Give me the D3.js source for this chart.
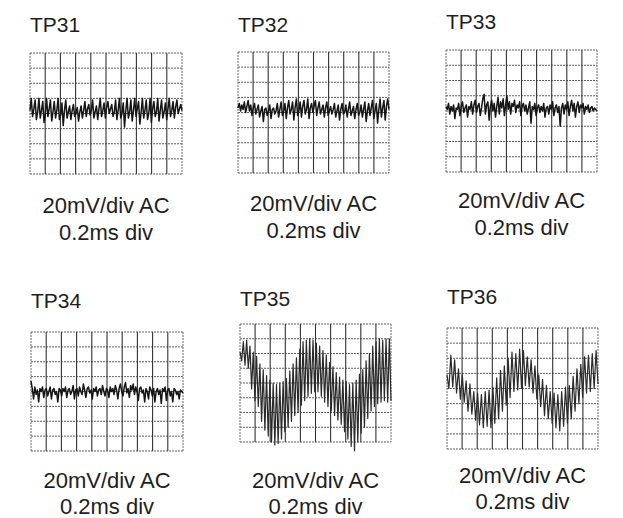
<!DOCTYPE html>
<html>
<head>
<meta charset="utf-8">
<title>TP31-TP36</title>
<script src="https://d3js.org/d3.v7.min.js"></script>
<style>
  body{margin:0;background:#fff;}
  svg{display:block;}
  text{font-family:"Liberation Sans",Arial,Helvetica,sans-serif;fill:#1e1e1e;}
</style>
</head>
<body>
<div id="chart"></div>
<script>
// probe names, one per scope photo
var probes = ['TP31', 'TP32', 'TP33', 'TP34', 'TP35', 'TP36'];
var voltLabel = '20mV/div AC';
var timeLabel = '0.2ms div';

// traces in divisions from centre line, evenly spread over 10 div
var tp31 = [0.2, 1.0, -0.2, 0.3, 0.9, -0.4, 0.1, 1.0, -0.3, 0.2, 0.8, -0.6, 0.0, 1.0, -0.2, 0.3, 0.9, -0.5, 0.1, 0.8, -0.3, 0.2, 1.0, -0.4, -0.1, 0.7, -0.8, 0.2, 0.9, -0.3,
  0.1, 0.5, -0.4, 0.2, 0.6, -0.2, 0.0, 0.4, -0.5, 0.1, 0.5, -0.3, 0.2, 0.8, -0.2, 0.3, 0.6, -0.1, 0.2, 0.9, -0.3, 0.1, 0.5, -0.4, 0.3, 1.0, -0.2, 0.2, 0.7, -0.3,
  0.4, 0.8, 0.0, 0.3, 0.6, -0.2, 0.1, 0.9, -0.4, 0.2, 1.0, -0.3, 0.0, 0.7, -0.9, 0.2, 1.0, -0.3, 0.1, 0.9, -0.5, 0.2, 1.0, -0.2, 0.3, 0.8, -0.7, 0.1, 1.0, -0.3,
  0.2, 0.9, -0.4, 0.0, 1.0, -0.6, 0.3, 0.8, -0.2, 0.1, 1.0, -0.5, 0.2, 0.9, -0.3, 0.1, 0.7, -0.4, 0.3, 1.0, -0.2, 0.2, 0.8, -0.3, 0.4, 0.9, 0.0, 0.3, 0.6, 0.2];

var tp32 = [0.3, 0.6, 0.1, 0.5, 0.2, 0.7, 0.0, 0.4, 0.8, 0.1, 0.5, -0.2, 0.3, 0.6, -0.1, 0.2, 0.5, -0.3, 0.1, 0.4, -0.6, 0.2, 0.3, -0.2, 0.1, 0.5, -0.4, 0.2, 0.3, -0.1,
  0.1, 0.6, -0.3, 0.2, 0.7, -0.2, 0.1, 0.6, -0.4, 0.3, 0.8, -0.1, 0.2, 0.7, -0.5, 0.3, 0.9, -0.2, 0.1, 0.7, -0.3, 0.4, 0.8, -0.1, 0.2, 0.9, -0.4, 0.3, 0.6, 0.0,
  0.4, 0.8, -0.2, 0.3, 0.7, -0.1, 0.2, 0.5, -0.3, 0.3, 0.7, -0.2, 0.1, 0.4, -0.1, 0.2, 0.6, -0.3, 0.1, 0.5, -0.5, 0.2, 0.6, -0.1, 0.0, 0.5, -0.3, 0.2, 0.7, -0.2,
  0.1, 0.4, -0.4, 0.2, 0.6, -0.2, 0.0, 0.5, -0.3, 0.2, 0.7, -0.6, 0.1, 0.6, -0.2, 0.3, 0.8, -0.4, 0.1, 0.6, -0.7, 0.2, 0.9, -0.3, 0.3, 0.8, -0.5, 0.4, 0.9, 0.2];

var tp33 = [0.3, 0.1, 0.5, -0.2, 0.3, 0.0, 0.4, -0.5, 0.2, 0.1, 0.5, -0.3, 0.3, 0.6, -0.1, 0.2, 0.4, -0.4, 0.3, 0.1, 0.6, -0.2, 0.4, 0.7, -0.1, 0.3, 0.5, -0.3, 0.2, 0.8,
  1.1, -0.2, 0.4, 0.6, -0.6, 0.3, 0.7, 0.0, 0.5, -0.4, 0.3, 0.9, -0.2, 0.6, 0.2, 0.8, -0.3, 0.4, 1.0, 0.1, 0.6, -0.2, 0.5, 0.3, 0.7, -0.1, 0.4, 0.2, 0.6, -0.3,
  0.3, 0.5, 0.0, 0.4, -0.2, 0.2, 0.6, -0.8, 0.3, 0.1, 0.5, -0.3, 0.2, 0.4, -0.1, 0.3, 0.0, 0.5, -0.4, 0.2, 0.3, -0.2, 0.4, 0.1, 0.6, -0.3, 0.2, 0.4, -0.1, 0.3,
  -1.0, 0.2, 0.5, -0.2, 0.4, 0.1, 0.6, -0.3, 0.3, 0.7, 0.0, 0.5, -0.4, 0.3, 0.6, -0.1, 0.4, 0.2, 0.5, -0.2, 0.3, 0.1, 0.4, -0.1, 0.2, 0.3, 0.0, 0.2, 0.1, 0.0];

var tp34 = [0.7, 0.2, -0.5, 0.3, -0.2, 0.1, -0.7, 0.2, 0.0, 0.3, -0.4, 0.1, 0.2, -0.3, 0.0, 0.3, -0.5, 0.1, 0.2, -0.2, 0.0, -0.7, 0.2, 0.1, -0.3, 0.2, 0.0, 0.3, -0.4, 0.1,
  0.2, -0.2, 0.0, 0.4, -0.5, 0.1, 0.2, -0.3, 0.3, 0.0, -0.2, 0.5, 0.1, -0.4, 0.2, 0.3, -0.1, 0.1, -0.5, 0.2, 0.0, 0.3, -0.3, 0.1, 0.2, -0.2, 0.4, 0.0, -0.3, 0.2,
  0.1, -0.4, 0.3, 0.0, 0.2, -0.2, 0.4, 0.1, -0.5, 0.2, 0.5, 0.0, -0.3, 0.3, 0.6, -0.1, 0.2, -0.4, 0.4, 0.1, 0.5, -0.2, 0.3, 0.0, -0.6, 0.2, 0.3, -0.1, 0.1, -0.7,
  0.2, 0.0, -0.5, 0.3, 0.1, -0.3, 0.2, -0.7, 0.0, 0.2, -0.2, 0.1, -0.8, 0.2, 0.0, 0.3, -0.6, 0.1, 0.2, -0.3, 0.0, -0.7, 0.2, 0.1, -0.2, 0.0, -0.5, 0.1, 0.0, -0.1];

// TP35 and TP36: top of each ripple followed by its bottom
var tp35 = [2.1, 1.5, 2.8, 1.2, 2.9, 1.0, 2.5, -0.4, 2.1, -1.2, 1.8, -1.6, 1.3, -2.6, 0.9, -3.2, 0.5, -3.6, 0.2, -4.0,
  0.0, -4.2, -0.1, -4.1, 0.0, -3.8, 0.1, -3.3, 0.3, -3.0, 0.8, -2.6, 1.3, -2.2, 1.7, -2.0, 2.3, -1.5, 2.8, -1.2,
  2.9, -0.9, 3.0, -0.7, 2.9, -0.6, 2.7, -0.6, 2.5, -0.9, 2.2, -1.3, 1.9, -1.6, 1.4, -1.9, 1.1, -2.2, 0.7, -2.5,
  0.4, -2.8, 0.2, -3.3, 0.1, -3.8, -0.1, -4.3, 0.0, -4.6, 0.2, -4.0, 0.6, -3.4, 0.9, -3.0, 1.5, -2.4, 2.0, -1.9,
  2.5, -1.6, 2.8, -1.4, 3.0, -1.3, 2.9, -1.2, 3.0, -1.3, 3.0, -1.2];

var tp36 = [0.9, 0.0, 2.2, 0.1, 1.9, -0.3, 1.3, -0.7, 0.9, -0.9, 0.5, -1.5, 0.3, -1.7, -0.2, -2.1, -0.3, -2.4, -0.4, -2.6,
  -0.2, -2.5, -0.1, -2.6, 0.1, -2.3, 0.7, -2.0, 1.2, -1.5, 1.5, -1.1, 2.0, -0.6, 2.4, -0.2, 2.3, -0.1, 2.6, 0.0,
  2.5, 0.2, 2.1, 0.1, 1.9, -0.3, 1.5, -0.7, 0.9, -1.2, 0.6, -1.8, 0.2, -2.0, -0.2, -2.3, -0.3, -2.6, -0.4, -2.8,
  -0.2, -2.5, 0.1, -2.3, 0.2, -2.0, 0.8, -1.5, 1.3, -1.0, 1.6, -0.6, 2.1, -0.3, 2.2, -0.2, 2.3, 0.0, 2.5, 0.3];

var traces = [tp31, tp32, tp33, tp34, tp35, tp36];

// where each screen sits on the page: grid box and text baselines
var layout = [
  {x0: 30, x1: 182, y0: 53, y1: 174, title: 32, l1: 213, l2: 240},
  {x0: 238, x1: 389, y0: 52, y1: 173, title: 32, l1: 211, l2: 238},
  {x0: 446, x1: 597, y0: 50, y1: 172, title: 29, l1: 208, l2: 235},
  {x0: 31, x1: 183, y0: 332, y1: 451, title: 308, l1: 488, l2: 514},
  {x0: 240, x1: 391, y0: 324, y1: 442, title: 306, l1: 488, l2: 514},
  {x0: 447, x1: 598, y0: 328, y1: 449, title: 304, l1: 483, l2: 509}
];

var width = 623, height = 518;
var svg = d3.select('#chart').append('svg')
  .attr('width', width)
  .attr('height', height);

probes.forEach(function(name, k){
  var box = layout[k];
  var data = traces[k];
  var xScale = d3.scaleLinear().domain([0, 10]).range([box.x0, box.x1]);
  var yScale = d3.scaleLinear().domain([-4, 4]).range([box.y1, box.y0]);
  var idx = d3.scaleLinear().domain([0, data.length - 1]).range([0, 10]);
  var g = svg.append('g').attr('class', 'scope');

  // graticule
  g.selectAll('line.h')
    .data(d3.range(-4, 5))
    .enter().append('line')
    .attr('class', 'h')
    .attr('x1', xScale(0)).attr('x2', xScale(10))
    .attr('y1', d => yScale(d)).attr('y2', d => yScale(d))
    .attr('stroke', '#5e5e5e')
    .attr('stroke-width', 1)
    .attr('stroke-dasharray', '2,1');
  g.selectAll('line.v')
    .data(d3.range(0, 11))
    .enter().append('line')
    .attr('class', 'v')
    .attr('x1', d => xScale(d)).attr('x2', d => xScale(d))
    .attr('y1', yScale(4)).attr('y2', yScale(-4))
    .attr('stroke', d => (d === 0 || d === 10) ? '#6a6a6a' : '#333')
    .attr('stroke-width', d => (d === 0 || d === 10) ? 1 : 1.1)
    .attr('stroke-dasharray', d => (d === 0 || d === 10) ? '2,1' : null);

  var line = d3.line()
    .x((d, i) => xScale(idx(i)))
    .y(d => yScale(d));
  g.append('path')
    .datum(data)
    .attr('d', line)
    .attr('fill', 'none')
    .attr('stroke', k >= 4 ? '#2a2a2a' : '#151515')
    .attr('stroke-width', k >= 4 ? 1.2 : 1.5)
    .attr('stroke-linejoin', 'round');

  g.append('text')
    .attr('x', box.x0)
    .attr('y', box.title)
    .style('font-size', '21px')
    .text(name);
  g.append('text')
    .attr('x', (box.x0 + box.x1) / 2)
    .attr('y', box.l1)
    .attr('text-anchor', 'middle')
    .style('font-size', '22px')
    .text(voltLabel);
  g.append('text')
    .attr('x', (box.x0 + box.x1) / 2)
    .attr('y', box.l2)
    .attr('text-anchor', 'middle')
    .style('font-size', '22px')
    .text(timeLabel);
});
</script>
</body>
</html>
